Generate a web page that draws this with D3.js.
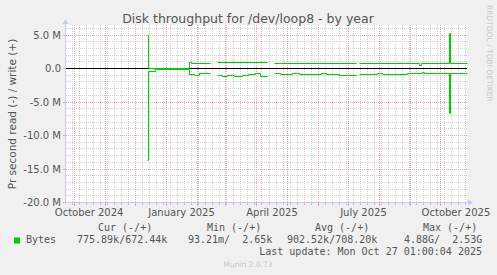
<!DOCTYPE html>
<html>
<head>
<meta charset="utf-8">
<script src="https://cdn.jsdelivr.net/npm/d3@7/dist/d3.min.js"></script>
<style>
  body { margin: 0; background: #f0f0f0; }
  svg { display: block; }
  text { font-family: "DejaVu Sans", sans-serif; }
  .mono { font-family: "DejaVu Sans Mono", monospace; white-space: pre; }
</style>
</head>
<body>
<svg id="chart"></svg>
<script>
// values in M (bytes/s), read shown negative; null = no data
const writeData = [
  ["2024-12-13", 5.0], ["2024-12-14", 0.02], ["2025-01-24", 0.95], ["2025-01-26", 0.82],
  ["2025-02-14", null], ["2025-02-21", 0.88], ["2025-04-11", null], ["2025-04-18", 0.68],
  ["2025-04-24", 0.82], ["2025-07-09", null], ["2025-07-12", 0.82], ["2025-08-27", 0.7],
  ["2025-09-10", 0.5], ["2025-09-12", 0.7], ["2025-10-10", 5.3], ["2025-10-11", 0.7],
  ["2025-10-27", 0.7]
];
const readData = [
  ["2024-12-13", -13.7], ["2024-12-14", -0.37], ["2024-12-21", -0.07], ["2025-01-24", -0.9],
  ["2025-01-29", -1.0], ["2025-02-03", -0.8], ["2025-02-14", null], ["2025-02-21", -1.1],
  ["2025-02-26", -1.2], ["2025-03-03", -1.0], ["2025-03-10", -1.15], ["2025-03-18", -1.05],
  ["2025-03-24", -0.82], ["2025-03-31", -0.72], ["2025-04-05", -1.15], ["2025-04-11", null],
  ["2025-04-18", -0.75], ["2025-04-24", -0.85], ["2025-05-06", -0.72], ["2025-05-13", -0.85],
  ["2025-06-04", -0.72], ["2025-06-09", -0.85], ["2025-06-22", -1.05], ["2025-07-02", -1.0],
  ["2025-07-09", null], ["2025-07-12", -0.85], ["2025-07-30", -0.72], ["2025-08-04", -0.85],
  ["2025-08-29", -0.78], ["2025-09-13", -0.6], ["2025-09-15", -0.78], ["2025-10-10", -6.7],
  ["2025-10-11", -0.78], ["2025-10-27", -0.78]
];
const yMajorTicks = [5, 0, -5, -10, -15, -20];
const yTickLabels = ["5.0 M", "0.0", "-5.0 M", "-10.0 M", "-15.0 M", "-20.0 M"];
const xLabelMonths = ["2024-10-01", "2025-01-01", "2025-04-01", "2025-07-01", "2025-10-01"];
const legendHeaders = ["Cur (-/+)", "Min (-/+)", "Avg (-/+)", "Max (-/+)"];
const legendValues = ["775.89k/672.44k", "93.21m/  2.65k", "902.52k/708.20k", "4.88G/  2.53G"];

const w = 497, h = 275;
const pLeft = 66, pRight = 467, pTop = 25, pBottom = 202.5;
const parse = d3.timeParse("%Y-%m-%d");
const snap = (v) => Math.round(v - 0.5) + 0.5;

const svg = d3.select('#chart').attr('width', w).attr('height', h);

const tStart = new Date(2024, 8, 23), tEnd = new Date(2025, 9, 27);
const xScale = d3.scaleTime().domain([tStart, tEnd]).range([pLeft, pRight]);
const yScale = d3.scaleLinear().domain([-20, 6.5]).range([pBottom, pTop]);

svg.append('rect').attr('x', pLeft).attr('y', pTop)
  .attr('width', pRight - pLeft).attr('height', pBottom - pTop).attr('fill', '#fff');

const grid = svg.append('g').attr('shape-rendering', 'crispEdges');

// minor grid
d3.range(-20, 7, 1).filter((d) => d % 5 != 0).forEach((d) => {
  grid.append('line').attr('x1', pLeft).attr('x2', pRight)
    .attr('y1', snap(yScale(d))).attr('y2', snap(yScale(d)))
    .attr('stroke', '#d0d0d0').attr('stroke-dasharray', '1,1');
});
d3.timeWeek.range(tStart, tEnd).forEach((d) => {
  const x = snap(xScale(d));
  grid.append('line').attr('x1', x).attr('x2', x).attr('y1', pTop).attr('y2', pBottom)
    .attr('stroke', '#d0d0d0').attr('stroke-dasharray', '1,1');
  grid.append('line').attr('x1', x).attr('x2', x).attr('y1', pBottom).attr('y2', pBottom + 2)
    .attr('stroke', '#c0c0c0');
});
// major grid
yMajorTicks.forEach((d) => {
  grid.append('line').attr('x1', pLeft).attr('x2', pRight)
    .attr('y1', snap(yScale(d))).attr('y2', snap(yScale(d)))
    .attr('stroke', '#f0a0a0').attr('stroke-dasharray', '1,1');
  grid.append('line').attr('x1', pLeft - 3).attr('x2', pLeft)
    .attr('y1', snap(yScale(d))).attr('y2', snap(yScale(d))).attr('stroke', '#f0a0a0');
});
d3.timeMonth.range(tStart, tEnd).forEach((d) => {
  const x = snap(xScale(d));
  grid.append('line').attr('x1', x).attr('x2', x).attr('y1', pTop).attr('y2', pBottom)
    .attr('stroke', '#f0a0a0').attr('stroke-dasharray', '1,1');
  grid.append('line').attr('x1', x).attr('x2', x).attr('y1', pBottom).attr('y2', pBottom + 3)
    .attr('stroke', '#f0a0a0');
});

// axes
const axisColor = '#c8c8ff';
grid.append('line').attr('x1', pLeft - 0.5).attr('x2', pLeft - 0.5).attr('y1', pBottom + 1).attr('y2', pTop - 2)
  .attr('stroke', axisColor);
grid.append('line').attr('x1', pLeft - 2).attr('x2', pRight + 2).attr('y1', pBottom).attr('y2', pBottom)
  .attr('stroke', axisColor);
svg.append('path').attr('d', `M${pLeft - 3.5},${pTop - 1}L${pLeft + 2.5},${pTop - 1}L${pLeft - 0.5},${pTop - 6}Z`)
  .attr('fill', axisColor);
svg.append('path').attr('d', `M${pRight + 1},${pBottom - 3}L${pRight + 1},${pBottom + 3}L${pRight + 6},${pBottom}Z`)
  .attr('fill', axisColor);

// y labels
yMajorTicks.forEach((d, i) => {
  svg.append('text').attr('x', 61).attr('y', yScale(d) + 3.5)
    .attr('text-anchor', 'end').attr('font-size', 10).attr('fill', '#555')
    .text(yTickLabels[i]);
});
// x labels (centered mid-month)
const fmt = d3.timeFormat('%B %Y');
xLabelMonths.forEach((s) => {
  const d = parse(s);
  svg.append('text').attr('x', xScale(d3.timeDay.offset(d, 15))).attr('y', 216)
    .attr('text-anchor', 'middle').attr('font-size', 10).attr('fill', '#555')
    .text(fmt(d));
});

// zero line
svg.append('line').attr('x1', pLeft).attr('x2', pRight)
  .attr('y1', yScale(0)).attr('y2', yScale(0))
  .attr('stroke', '#000').attr('shape-rendering', 'crispEdges');

// step series
function stepPoints(data) {
  const pts = [];
  for (let i = 0; i < data.length; i++) {
    const t = parse(data[i][0]), v = data[i][1];
    if (v == null) { pts.push({ t: t, v: null }); continue; }
    pts.push({ t: t, v: v });
    if (i + 1 < data.length) pts.push({ t: parse(data[i + 1][0]), v: v });
  }
  return pts;
}
const line = d3.line()
  .defined((d) => d.v != null)
  .x((d) => snap(xScale(d.t)))
  .y((d) => snap(yScale(d.v)));

[writeData, readData].forEach((data) => {
  svg.append('path').attr('d', line(stepPoints(data)))
    .attr('fill', 'none').attr('stroke', '#00cc00').attr('stroke-width', 1);
});

// title and labels
svg.append('text').attr('x', 248).attr('y', 23).attr('text-anchor', 'middle')
  .attr('font-size', 12.5).attr('fill', '#555')
  .text('Disk throughput for /dev/loop8 - by year');
svg.append('text').attr('transform', 'translate(16,114) rotate(-90)')
  .attr('text-anchor', 'middle').attr('font-size', 10.5).attr('fill', '#555')
  .text('Pr second read (-) / write (+)');
svg.append('text').attr('transform', 'translate(487,5) rotate(90)')
  .attr('text-anchor', 'start').attr('font-size', 7.5).attr('fill', '#c8c8c8')
  .text('RRDTOOL / TOBI OETIKER');

// legend
const headerX = [98, 207, 315, 423];
const valueX = [77, 188, 287, 404];
legendHeaders.forEach((s, i) => {
  svg.append('text').attr('class', 'mono').attr('x', headerX[i]).attr('y', 231)
    .attr('font-size', 10).attr('fill', '#555').text(s);
});
svg.append('rect').attr('x', 14).attr('y', 237.5).attr('width', 6).attr('height', 6).attr('fill', '#00cc00');
svg.append('text').attr('class', 'mono').attr('x', 26).attr('y', 243)
  .attr('font-size', 10).attr('fill', '#555').text('Bytes');
legendValues.forEach((s, i) => {
  svg.append('text').attr('class', 'mono').attr('x', valueX[i]).attr('y', 243)
    .attr('font-size', 10).attr('fill', '#555').text(s);
});
svg.append('text').attr('class', 'mono').attr('x', 482).attr('y', 255)
  .attr('text-anchor', 'end').attr('font-size', 10).attr('fill', '#555')
  .text('Last update: Mon Oct 27 01:00:04 2025');
svg.append('text').attr('x', 248).attr('y', 267).attr('text-anchor', 'middle')
  .attr('font-size', 7.5).attr('fill', '#c8c8c8').text('Munin 2.0.73');
</script>
</body>
</html>
